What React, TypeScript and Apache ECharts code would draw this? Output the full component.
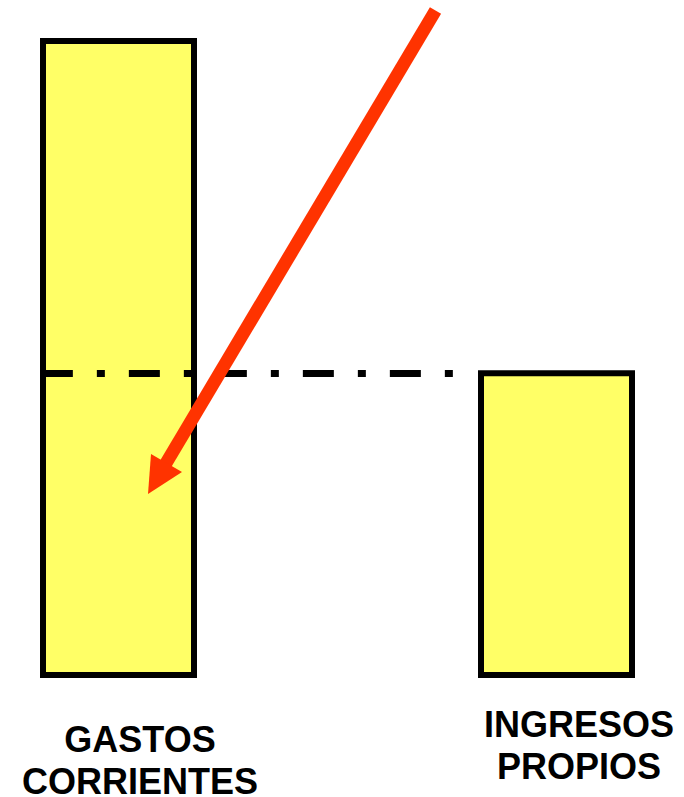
import React, { useEffect, useRef } from "react";
import * as echarts from "echarts";

// Categories (label lines) and bar values (relative heights)
const categories = ["GASTOS\nCORRIENTES", "INGRESOS\nPROPIOS"];
const barPositions = [0, 1];
const barValues = [100, 48.1];
// Level of the dash-dot reference line (top edge of the second bar)
const referenceLevel = 47.6;
const referenceFrom = -0.175;
const referenceTo = 0.777;

export default function App() {
  const ref = useRef<HTMLDivElement>(null);

  useEffect(() => {
    const chart = echarts.init(ref.current!, null, { renderer: "svg" });

    const labelCenters = [140, 579];
    const firstBaselines = [752, 737];
    const lineGap = 42;
    const labelTexts: any[] = [];
    categories.forEach((cat, i) => {
      cat.split("\n").forEach((line, j) => {
        labelTexts.push({
          type: "text",
          x: labelCenters[i],
          y: firstBaselines[i] + j * lineGap - 13,
          z: 10,
          style: {
            text: line,
            fill: "#000",
            font: 'bold 36px "Liberation Sans", Arial, sans-serif',
            align: "center",
            verticalAlign: "middle",
          },
        });
      });
    });

    chart.setOption({
      animation: false,
      backgroundColor: "#fff",
      grid: { left: 30.9, right: 39.9, top: 38, bottom: 119 },
      xAxis: {
        type: "value",
        min: -0.2,
        max: 1.2,
        show: false,
      },
      yAxis: {
        type: "value",
        min: 0,
        max: 100,
        show: false,
      },
      series: [
        {
          type: "bar",
          barWidth: 157,
          clip: false,
          data: barPositions.map((p, i) => [p, barValues[i]]),
          itemStyle: {
            color: "#FFFF66",
            borderColor: "#000",
            borderWidth: 6,
          },
          markLine: {
            silent: true,
            symbol: ["none", "none"],
            label: { show: false },
            lineStyle: {
              color: "#000",
              width: 7,
              type: [31, 24, 8, 24],
            },
            data: [
              [
                { coord: [referenceFrom, referenceLevel] },
                { coord: [referenceTo, referenceLevel] },
              ],
            ],
          },
        },
      ],
      graphic: [
        {
          type: "line",
          z: 20,
          shape: { x1: 435.5, y1: 10.5, x2: 162, y2: 470 },
          style: { stroke: "#FF3300", lineWidth: 13, lineCap: "butt" },
        },
        {
          type: "polygon",
          z: 20,
          shape: { points: [[148, 494], [151, 454], [182, 472]] },
          style: { fill: "#FF3300" },
        },
        ...labelTexts,
      ],
    });

    return () => chart.dispose();
  }, []);

  return (
    <div
      ref={ref}
      style={{
        position: "absolute",
        left: 0,
        top: 0,
        width: 684,
        height: 797,
        background: "#fff",
      }}
    />
  );
}
